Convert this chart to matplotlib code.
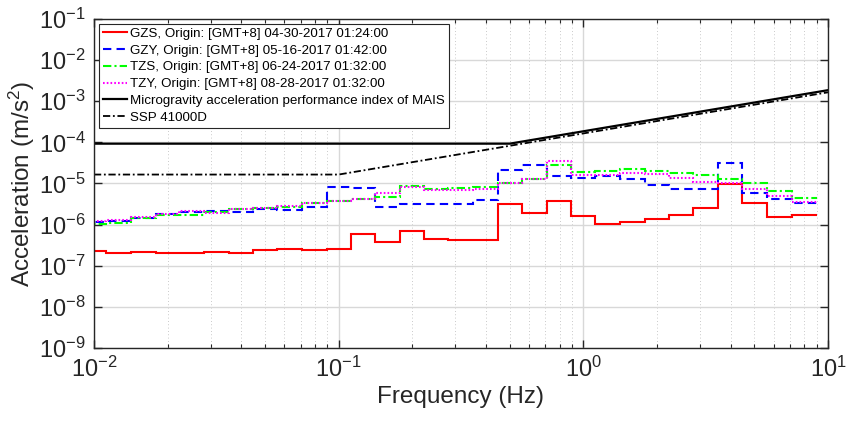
import numpy as np
import matplotlib
matplotlib.use('Agg')
import matplotlib.pyplot as plt

plt.rcParams['font.family'] = ['Liberation Sans', 'DejaVu Sans']
plt.rcParams['mathtext.fontset'] = 'custom'
plt.rcParams['mathtext.rm'] = 'Liberation Sans'
plt.rcParams['mathtext.it'] = 'Liberation Sans'

# one-third octave band centres (Hz)
centers = [0.01, 0.0125, 0.016, 0.02, 0.025, 0.0315, 0.04, 0.05, 0.063, 0.08,
           0.1, 0.125, 0.16, 0.2, 0.25, 0.315, 0.4, 0.5, 0.63, 0.8,
           1.0, 1.25, 1.6, 2.0, 2.5, 3.15, 4.0, 5.0, 6.3, 8.0]

# RMS acceleration per band (m/s^2)
gzs = [2.24e-7, 2.08e-7, 2.16e-7, 2.08e-7, 2.04e-7, 2.16e-7, 2.08e-7, 2.41e-7, 2.6e-7, 2.41e-7,
       2.6e-7, 5.8e-7, 3.85e-7, 7.0e-7, 4.4e-7, 4.16e-7, 4.3e-7, 3.18e-6, 1.95e-6, 3.75e-6,
       1.65e-6, 1.02e-6, 1.16e-6, 1.39e-6, 1.68e-6, 2.53e-6, 9.55e-6, 3.3e-6, 1.53e-6, 1.68e-6]
gzy = [1.15e-6, 1.25e-6, 1.48e-6, 1.78e-6, 2.03e-6, 2.19e-6, 2.03e-6, 2.44e-6, 2.26e-6, 2.73e-6,
       8.4e-6, 7.9e-6, 2.73e-6, 3.18e-6, 3.18e-6, 3.18e-6, 3.97e-6, 2.13e-5, 2.82e-5, 1.55e-5,
       1.34e-5, 1.55e-5, 1.29e-5, 9.2e-6, 7.2e-6, 7.5e-6, 3.1e-5, 5.77e-6, 4.1e-6, 3.3e-6]
tzs = [1.02e-6, 1.11e-6, 1.42e-6, 1.68e-6, 1.74e-6, 1.99e-6, 2.4e-6, 2.53e-6, 2.63e-6, 3.3e-6,
       3.82e-6, 4.1e-6, 4.6e-6, 8.7e-6, 7.2e-6, 7.6e-6, 8.0e-6, 1.05e-5, 1.26e-5, 2.82e-5,
       1.94e-5, 2.01e-5, 2.21e-5, 2.01e-5, 1.84e-5, 1.58e-5, 1.29e-5, 1.05e-5, 6.68e-6, 4.36e-6]
tzy = [1.25e-6, 1.3e-6, 1.51e-6, 1.78e-6, 2.11e-6, 1.95e-6, 2.4e-6, 2.5e-6, 2.84e-6, 3.42e-6,
       3.82e-6, 4.1e-6, 5.77e-6, 8.0e-6, 6.95e-6, 6.95e-6, 7.2e-6, 1.0e-5, 1.3e-5, 3.59e-5,
       1.61e-5, 1.61e-5, 1.77e-5, 1.7e-5, 1.39e-5, 1.07e-5, 1.05e-5, 7.5e-6, 5.06e-6, 3.55e-6]

# requirement curves
mais_f = [0.01, 0.5, 10.0]
mais_a = [9.3e-5, 9.3e-5, 1.86e-3]
ssp_f = [0.01, 0.1, 10.0]
ssp_a = [1.65e-5, 1.65e-5, 1.65e-3]

labels = ['GZS, Origin: [GMT+8] 04-30-2017 01:24:00',
          'GZY, Origin: [GMT+8] 05-16-2017 01:42:00',
          'TZS, Origin: [GMT+8] 06-24-2017 01:32:00',
          'TZY, Origin: [GMT+8] 08-28-2017 01:32:00',
          'Microgravity acceleration performance index of MAIS',
          'SSP 41000D']

# band edges from the centres
c = np.array(centers)
mid = np.sqrt(c[:-1] * c[1:])
edges = np.concatenate([[c[0] ** 2 / mid[0]], mid, [c[-1] ** 2 / mid[-1]]])

fig = plt.figure(figsize=(8.56, 4.25), dpi=100)
ax = fig.add_axes([0.1098, 0.1812, 0.8575, 0.7741])

lw = 1.5
ax.stairs(gzs, edges, baseline=None, color='#ff0000', lw=lw, label=labels[0])
ax.stairs(gzy, edges, baseline=None, color='#0000ff', lw=lw, ls=(0, (4, 2.5)), label=labels[1])
ax.stairs(tzs, edges, baseline=None, color='#00ff00', lw=lw, ls=(0, (4, 1.5, 1, 1.5)), label=labels[2])
ax.stairs(tzy, edges, baseline=None, color='#ff00ff', lw=lw, ls=(0, (0.8, 1.0)), label=labels[3])
ax.plot(mais_f, mais_a, color='black', lw=1.6, label=labels[4])
ax.plot(ssp_f, ssp_a, color='black', lw=1.3, ls=(0, (4, 1.5, 1, 1.5)), label=labels[5])

ax.set_xscale('log')
ax.set_yscale('log')
ax.set_xlim(1e-2, 1e1)
ax.set_ylim(1e-9, 1e-1)
ax.set_yticks([10.0 ** k for k in range(-9, 0)])
ax.set_xticks([1e-2, 1e-1, 1e0, 1e1])

ax.grid(True, which='major', color='#d8d8d8', lw=1.0, ls='-')
ax.grid(True, which='minor', color='#b8b8b8', lw=0.6, ls=(0, (1, 3)))
ax.set_axisbelow(True)

dark = '#262626'
for s in ax.spines.values():
    s.set_color(dark)
    s.set_linewidth(1.0)
ax.tick_params(which='both', direction='in', top=True, right=True, colors=dark,
               labelsize=17, pad=6)
ax.tick_params(which='major', length=6, width=1.0)
ax.tick_params(which='minor', length=3, width=0.8)

ax.set_xlabel('Frequency (Hz)', fontsize=17.5, color=dark, labelpad=3)
ax.set_ylabel('Acceleration (m/s$^2$)', fontsize=17.5, color=dark, labelpad=1)

leg = ax.legend(loc='upper left', fontsize=9.6, handlelength=1.8, handletextpad=0.25,
                borderaxespad=0.35, borderpad=0.3, labelspacing=0.33, fancybox=False,
                framealpha=1.0, edgecolor=dark)
leg.get_frame().set_linewidth(0.8)

fig.savefig('out.png', dpi=100)
